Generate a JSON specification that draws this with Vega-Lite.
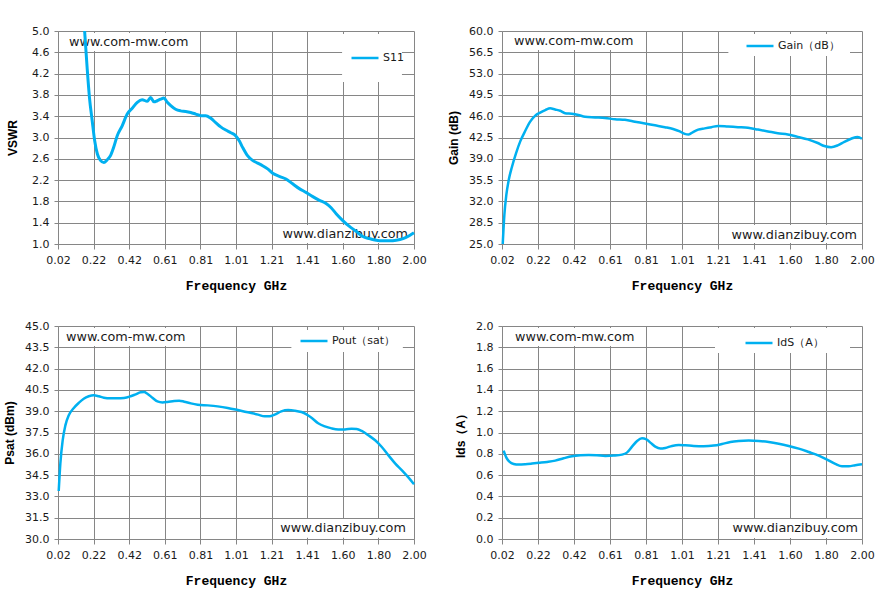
{
"$schema": "https://vega.github.io/schema/vega-lite/v6.json",
"background": "white",
"padding": {"left": 3, "top": 25, "right": 5, "bottom": 5},
"columns": 2,
"spacing": {"row": 28, "column": 20},
"resolve": {"scale": {"color": "independent"}, "legend": {"color": "independent"}},
"config": {
  "view": {"stroke": null},
  "axis": {"grid": true, "gridColor": "#868686", "gridOpacity": 1, "domainColor": "#868686", "tickColor": "#868686", "labelFont": "DejaVu Sans", "labelFontSize": 11, "labelColor": "#1a1a1a", "titleColor": "#000000", "labelFlush": false, "labelOverlap": false, "tickCount": 30},
  "axisX": {"titleFont": "Liberation Mono", "titleFontSize": 13, "titleFontWeight": "bold", "tickSize": 5, "labelPadding": 5, "titlePadding": 14},
  "axisY": {"titleFont": "Liberation Sans", "titleFontSize": 12, "titleFontWeight": "bold", "tickSize": 4, "labelPadding": 5, "titlePadding": 8},
  "legend": {"orient": "none", "padding": 0, "symbolType": "stroke", "symbolSize": 729, "symbolStrokeWidth": 2.5, "labelFont": "DejaVu Sans", "labelFontSize": 11, "labelColor": "#1a1a1a", "labelOffset": 3},
  "text": {"font": "DejaVu Sans", "fontSize": 12.8, "color": "#1a1a1a", "baseline": "middle"}
},
"datasets": {
  "vswr": [
    {"f":0.168,"v":5.0},{"f":0.182,"v":4.31},{"f":0.195,"v":3.75},{"f":0.210,"v":3.32},{"f":0.224,"v":2.94},{"f":0.239,"v":2.69},{"f":0.256,"v":2.57},{"f":0.275,"v":2.53},{"f":0.293,"v":2.58},{"f":0.312,"v":2.66},{"f":0.330,"v":2.82},{"f":0.349,"v":3.03},{"f":0.377,"v":3.22},{"f":0.405,"v":3.44},{"f":0.433,"v":3.55},{"f":0.461,"v":3.66},{"f":0.488,"v":3.71},{"f":0.516,"v":3.68},{"f":0.535,"v":3.75},{"f":0.554,"v":3.67},{"f":0.572,"v":3.69},{"f":0.591,"v":3.72},{"f":0.609,"v":3.74},{"f":0.628,"v":3.66},{"f":0.647,"v":3.60},{"f":0.674,"v":3.53},{"f":0.702,"v":3.50},{"f":0.730,"v":3.49},{"f":0.758,"v":3.47},{"f":0.786,"v":3.44},{"f":0.814,"v":3.41},{"f":0.842,"v":3.41},{"f":0.870,"v":3.36},{"f":0.897,"v":3.28},{"f":0.925,"v":3.20},{"f":0.953,"v":3.14},{"f":0.981,"v":3.09},{"f":1.009,"v":3.03},{"f":1.028,"v":2.94},{"f":1.046,"v":2.82},{"f":1.074,"v":2.66},{"f":1.102,"v":2.57},{"f":1.130,"v":2.52},{"f":1.158,"v":2.47},{"f":1.186,"v":2.41},{"f":1.214,"v":2.33},{"f":1.251,"v":2.27},{"f":1.288,"v":2.22},{"f":1.325,"v":2.13},{"f":1.362,"v":2.04},{"f":1.399,"v":1.97},{"f":1.437,"v":1.89},{"f":1.474,"v":1.82},{"f":1.511,"v":1.76},{"f":1.539,"v":1.68},{"f":1.567,"v":1.57},{"f":1.604,"v":1.44},{"f":1.641,"v":1.33},{"f":1.678,"v":1.24},{"f":1.715,"v":1.14},{"f":1.753,"v":1.10},{"f":1.790,"v":1.07},{"f":1.827,"v":1.06},{"f":1.864,"v":1.06},{"f":1.901,"v":1.07},{"f":1.939,"v":1.10},{"f":1.976,"v":1.16},{"f":2.0,"v":1.21}
  ],
  "gain": [
    {"f":0.024,"v":25.0},{"f":0.033,"v":29.8},{"f":0.044,"v":33.1},{"f":0.057,"v":35.5},{"f":0.075,"v":37.7},{"f":0.097,"v":39.9},{"f":0.121,"v":41.9},{"f":0.148,"v":43.6},{"f":0.175,"v":45.1},{"f":0.203,"v":46.1},{"f":0.230,"v":46.6},{"f":0.258,"v":47.0},{"f":0.285,"v":47.3},{"f":0.312,"v":47.1},{"f":0.340,"v":46.9},{"f":0.367,"v":46.5},{"f":0.404,"v":46.4},{"f":0.440,"v":46.2},{"f":0.477,"v":45.9},{"f":0.532,"v":45.8},{"f":0.587,"v":45.7},{"f":0.642,"v":45.5},{"f":0.696,"v":45.4},{"f":0.751,"v":45.1},{"f":0.806,"v":44.8},{"f":0.861,"v":44.5},{"f":0.916,"v":44.2},{"f":0.961,"v":43.9},{"f":0.998,"v":43.5},{"f":1.025,"v":43.1},{"f":1.047,"v":43.0},{"f":1.071,"v":43.4},{"f":1.099,"v":43.8},{"f":1.135,"v":44.0},{"f":1.172,"v":44.2},{"f":1.208,"v":44.4},{"f":1.263,"v":44.3},{"f":1.318,"v":44.2},{"f":1.373,"v":44.1},{"f":1.428,"v":43.8},{"f":1.483,"v":43.5},{"f":1.537,"v":43.2},{"f":1.592,"v":43.0},{"f":1.647,"v":42.6},{"f":1.702,"v":42.2},{"f":1.757,"v":41.6},{"f":1.793,"v":41.1},{"f":1.830,"v":40.9},{"f":1.866,"v":41.2},{"f":1.903,"v":41.8},{"f":1.940,"v":42.3},{"f":1.976,"v":42.6},{"f":2.0,"v":42.3}
  ],
  "psat": [
    {"f":0.024,"v":33.38},{"f":0.033,"v":35.31},{"f":0.046,"v":36.95},{"f":0.061,"v":38.0},{"f":0.080,"v":38.71},{"f":0.108,"v":39.23},{"f":0.135,"v":39.58},{"f":0.163,"v":39.88},{"f":0.191,"v":40.05},{"f":0.219,"v":40.12},{"f":0.247,"v":40.05},{"f":0.275,"v":39.95},{"f":0.312,"v":39.91},{"f":0.350,"v":39.91},{"f":0.387,"v":39.93},{"f":0.424,"v":40.05},{"f":0.452,"v":40.19},{"f":0.480,"v":40.33},{"f":0.499,"v":40.35},{"f":0.517,"v":40.23},{"f":0.545,"v":39.95},{"f":0.573,"v":39.69},{"f":0.601,"v":39.62},{"f":0.629,"v":39.65},{"f":0.666,"v":39.72},{"f":0.694,"v":39.74},{"f":0.722,"v":39.67},{"f":0.759,"v":39.55},{"f":0.797,"v":39.46},{"f":0.853,"v":39.41},{"f":0.908,"v":39.34},{"f":0.964,"v":39.23},{"f":1.020,"v":39.08},{"f":1.076,"v":38.92},{"f":1.132,"v":38.76},{"f":1.169,"v":38.64},{"f":1.197,"v":38.64},{"f":1.225,"v":38.76},{"f":1.262,"v":38.99},{"f":1.300,"v":39.08},{"f":1.337,"v":39.04},{"f":1.374,"v":38.94},{"f":1.402,"v":38.78},{"f":1.430,"v":38.54},{"f":1.467,"v":38.15},{"f":1.504,"v":37.93},{"f":1.542,"v":37.79},{"f":1.579,"v":37.72},{"f":1.616,"v":37.72},{"f":1.653,"v":37.77},{"f":1.681,"v":37.75},{"f":1.709,"v":37.61},{"f":1.747,"v":37.30},{"f":1.784,"v":36.95},{"f":1.821,"v":36.48},{"f":1.858,"v":35.89},{"f":1.896,"v":35.31},{"f":1.933,"v":34.84},{"f":1.970,"v":34.32},{"f":2.0,"v":33.85}
  ],
  "ids": [
    {"f":0.029,"v":0.830},{"f":0.044,"v":0.764},{"f":0.062,"v":0.724},{"f":0.084,"v":0.705},{"f":0.112,"v":0.699},{"f":0.148,"v":0.702},{"f":0.185,"v":0.708},{"f":0.222,"v":0.715},{"f":0.268,"v":0.724},{"f":0.313,"v":0.736},{"f":0.359,"v":0.758},{"f":0.405,"v":0.777},{"f":0.451,"v":0.786},{"f":0.497,"v":0.789},{"f":0.542,"v":0.786},{"f":0.588,"v":0.780},{"f":0.634,"v":0.783},{"f":0.680,"v":0.792},{"f":0.707,"v":0.811},{"f":0.735,"v":0.867},{"f":0.763,"v":0.920},{"f":0.790,"v":0.945},{"f":0.814,"v":0.936},{"f":0.836,"v":0.905},{"f":0.863,"v":0.867},{"f":0.891,"v":0.849},{"f":0.918,"v":0.855},{"f":0.955,"v":0.874},{"f":0.992,"v":0.883},{"f":1.028,"v":0.880},{"f":1.074,"v":0.874},{"f":1.129,"v":0.871},{"f":1.184,"v":0.877},{"f":1.230,"v":0.892},{"f":1.276,"v":0.911},{"f":1.322,"v":0.920},{"f":1.377,"v":0.924},{"f":1.432,"v":0.920},{"f":1.487,"v":0.911},{"f":1.542,"v":0.895},{"f":1.597,"v":0.874},{"f":1.652,"v":0.849},{"f":1.707,"v":0.817},{"f":1.762,"v":0.783},{"f":1.808,"v":0.746},{"f":1.853,"v":0.705},{"f":1.890,"v":0.683},{"f":1.927,"v":0.683},{"f":1.963,"v":0.693},{"f":2.0,"v":0.702}
  ]
},
"concat": [
  {
    "width": 356, "height": 213,
    "data": {"name": "vswr"},
    "layer": [
      {"data": {"values": [{}]}, "mark": {"type": "rect", "fill": "white"}, "encoding": {"x": {"datum": 0.059, "type": "quantitative"}, "x2": {"datum": 0.765}, "y": {"datum": 4.962, "type": "quantitative"}, "y2": {"datum": 4.624}}},
      {"data": {"values": [{}]}, "mark": {"type": "rect", "fill": "white"}, "encoding": {"x": {"datum": 1.26, "type": "quantitative"}, "x2": {"datum": 1.983}, "y": {"datum": 1.357, "type": "quantitative"}, "y2": {"datum": 1.02}}},
      {"data": {"values": [{}]}, "mark": {"type": "rect", "fill": "white"}, "encoding": {"x": {"datum": 1.6, "type": "quantitative"}, "x2": {"datum": 1.933}, "y": {"datum": 4.944, "type": "quantitative"}, "y2": {"datum": 4.042}}},
      {"data": {"values": [{}]}, "mark": {"type": "text", "text": "www.com-mw.com", "align": "left"}, "encoding": {"x": {"datum": 0.081, "type": "quantitative"}, "y": {"datum": 4.8, "type": "quantitative"}}},
      {"data": {"values": [{}]}, "mark": {"type": "text", "text": "www.dianzibuy.com", "align": "right"}, "encoding": {"x": {"datum": 1.967, "type": "quantitative"}, "y": {"datum": 1.188, "type": "quantitative"}}},
      {"mark": {"type": "line", "strokeWidth": 3, "interpolate": "monotone"},
       "encoding": {
         "x": {"field": "f", "type": "quantitative", "scale": {"domain": [0.02, 2.0], "nice": false, "zero": false}, "axis": {"title": "Frequency GHz", "values": [0.02,0.218,0.416,0.614,0.812,1.01,1.208,1.406,1.604,1.802,2.0], "format": ".2f", "tickCount": 30}},
         "y": {"field": "v", "type": "quantitative", "scale": {"domain": [1, 5], "nice": false, "zero": false}, "axis": {"title": "VSWR", "titlePadding": 12, "values": [1,1.4,1.8,2.2,2.6,3,3.4,3.8,4.2,4.6,5], "format": ".1f", "tickCount": 30}},
         "color": {"datum": "S11", "type": "nominal", "scale": {"range": ["#00B0F0"]}, "legend": {"title": null, "legendX": 292, "legendY": 12}}
       }}
    ]
  },
  {
    "width": 360, "height": 213,
    "data": {"name": "gain"},
    "layer": [
      {"data": {"values": [{}]}, "mark": {"type": "rect", "fill": "white"}, "encoding": {"x": {"datum": 0.064, "type": "quantitative"}, "x2": {"datum": 0.76}, "y": {"datum": 59.84, "type": "quantitative"}, "y2": {"datum": 56.88}}},
      {"data": {"values": [{}]}, "mark": {"type": "rect", "fill": "white"}, "encoding": {"x": {"datum": 1.271, "type": "quantitative"}, "x2": {"datum": 1.985}, "y": {"datum": 28.12, "type": "quantitative"}, "y2": {"datum": 25.17}}},
      {"data": {"values": [{}]}, "mark": {"type": "rect", "fill": "white"}, "encoding": {"x": {"datum": 1.265, "type": "quantitative"}, "x2": {"datum": 1.934}, "y": {"datum": 59.51, "type": "quantitative"}, "y2": {"datum": 55.89}}},
      {"data": {"values": [{}]}, "mark": {"type": "text", "text": "www.com-mw.com", "align": "left"}, "encoding": {"x": {"datum": 0.086, "type": "quantitative"}, "y": {"datum": 58.41, "type": "quantitative"}}},
      {"data": {"values": [{}]}, "mark": {"type": "text", "text": "www.dianzibuy.com", "align": "right"}, "encoding": {"x": {"datum": 1.973, "type": "quantitative"}, "y": {"datum": 26.53, "type": "quantitative"}}},
      {"mark": {"type": "line", "strokeWidth": 2.5, "interpolate": "monotone"},
       "encoding": {
         "x": {"field": "f", "type": "quantitative", "scale": {"domain": [0.02, 2.0], "nice": false, "zero": false}, "axis": {"title": "Frequency GHz", "values": [0.02,0.218,0.416,0.614,0.812,1.01,1.208,1.406,1.604,1.802,2.0], "format": ".2f", "tickCount": 30}},
         "y": {"field": "v", "type": "quantitative", "scale": {"domain": [25, 60], "nice": false, "zero": false}, "axis": {"title": "Gain (dB)", "values": [25,28.5,32,35.5,39,42.5,46,49.5,53,56.5,60], "format": ".1f", "tickCount": 30}},
         "color": {"datum": "Gain（dB）", "type": "nominal", "scale": {"range": ["#00B0F0"]}, "legend": {"title": null, "legendX": 243, "legendY": 0}}
       }}
    ]
  },
  {
    "width": 356, "height": 213,
    "data": {"name": "psat"},
    "layer": [
      {"data": {"values": [{}]}, "mark": {"type": "rect", "fill": "white"}, "encoding": {"x": {"datum": 0.042, "type": "quantitative"}, "x2": {"datum": 0.753}, "y": {"datum": 44.86, "type": "quantitative"}, "y2": {"datum": 43.59}}},
      {"data": {"values": [{}]}, "mark": {"type": "rect", "fill": "white"}, "encoding": {"x": {"datum": 1.234, "type": "quantitative"}, "x2": {"datum": 1.972}, "y": {"datum": 31.41, "type": "quantitative"}, "y2": {"datum": 30.08}}},
      {"data": {"values": [{}]}, "mark": {"type": "rect", "fill": "white"}, "encoding": {"x": {"datum": 1.318, "type": "quantitative"}, "x2": {"datum": 1.938}, "y": {"datum": 44.72, "type": "quantitative"}, "y2": {"datum": 43.17}}},
      {"data": {"values": [{}]}, "mark": {"type": "text", "text": "www.com-mw.com", "align": "left"}, "encoding": {"x": {"datum": 0.065, "type": "quantitative"}, "y": {"datum": 44.25, "type": "quantitative"}}},
      {"data": {"values": [{}]}, "mark": {"type": "text", "text": "www.dianzibuy.com", "align": "right"}, "encoding": {"x": {"datum": 1.955, "type": "quantitative"}, "y": {"datum": 30.75, "type": "quantitative"}}},
      {"mark": {"type": "line", "strokeWidth": 2.5, "interpolate": "monotone"},
       "encoding": {
         "x": {"field": "f", "type": "quantitative", "scale": {"domain": [0.02, 2.0], "nice": false, "zero": false}, "axis": {"title": "Frequency GHz", "values": [0.02,0.218,0.416,0.614,0.812,1.01,1.208,1.406,1.604,1.802,2.0], "format": ".2f", "tickCount": 30}},
         "y": {"field": "v", "type": "quantitative", "scale": {"domain": [30, 45], "nice": false, "zero": false}, "axis": {"title": "Psat (dBm)", "values": [30,31.5,33,34.5,36,37.5,39,40.5,42,43.5,45], "format": ".1f", "tickCount": 30}},
         "color": {"datum": "Pout（sat）", "type": "nominal", "scale": {"range": ["#00B0F0"]}, "legend": {"title": null, "legendX": 241, "legendY": 0}}
       }}
    ]
  },
  {
    "width": 360, "height": 213,
    "data": {"name": "ids"},
    "layer": [
      {"data": {"values": [{}]}, "mark": {"type": "rect", "fill": "white"}, "encoding": {"x": {"datum": 0.0695, "type": "quantitative"}, "x2": {"datum": 0.768}, "y": {"datum": 1.981, "type": "quantitative"}, "y2": {"datum": 1.812}}},
      {"data": {"values": [{}]}, "mark": {"type": "rect", "fill": "white"}, "encoding": {"x": {"datum": 1.274, "type": "quantitative"}, "x2": {"datum": 1.99}, "y": {"datum": 0.188, "type": "quantitative"}, "y2": {"datum": 0.01}}},
      {"data": {"values": [{}]}, "mark": {"type": "rect", "fill": "white"}, "encoding": {"x": {"datum": 1.1915, "type": "quantitative"}, "x2": {"datum": 1.934}, "y": {"datum": 1.981, "type": "quantitative"}, "y2": {"datum": 1.746}}},
      {"data": {"values": [{}]}, "mark": {"type": "text", "text": "www.com-mw.com", "align": "left"}, "encoding": {"x": {"datum": 0.0915, "type": "quantitative"}, "y": {"datum": 1.9, "type": "quantitative"}}},
      {"data": {"values": [{}]}, "mark": {"type": "text", "text": "www.dianzibuy.com", "align": "right"}, "encoding": {"x": {"datum": 1.978, "type": "quantitative"}, "y": {"datum": 0.1, "type": "quantitative"}}},
      {"mark": {"type": "line", "strokeWidth": 2.5, "interpolate": "monotone"},
       "encoding": {
         "x": {"field": "f", "type": "quantitative", "scale": {"domain": [0.02, 2.0], "nice": false, "zero": false}, "axis": {"title": "Frequency GHz", "values": [0.02,0.218,0.416,0.614,0.812,1.01,1.208,1.406,1.604,1.802,2.0], "format": ".2f", "tickCount": 30}},
         "y": {"field": "v", "type": "quantitative", "scale": {"domain": [0, 2], "nice": false, "zero": false}, "axis": {"title": "Ids（A）", "values": [0,0.2,0.4,0.6,0.8,1,1.2,1.4,1.6,1.8,2], "format": ".1f", "tickCount": 30}},
         "color": {"datum": "IdS（A）", "type": "nominal", "scale": {"range": ["#00B0F0"]}, "legend": {"title": null, "legendX": 242, "legendY": 2}}
       }}
    ]
  }
]
}
